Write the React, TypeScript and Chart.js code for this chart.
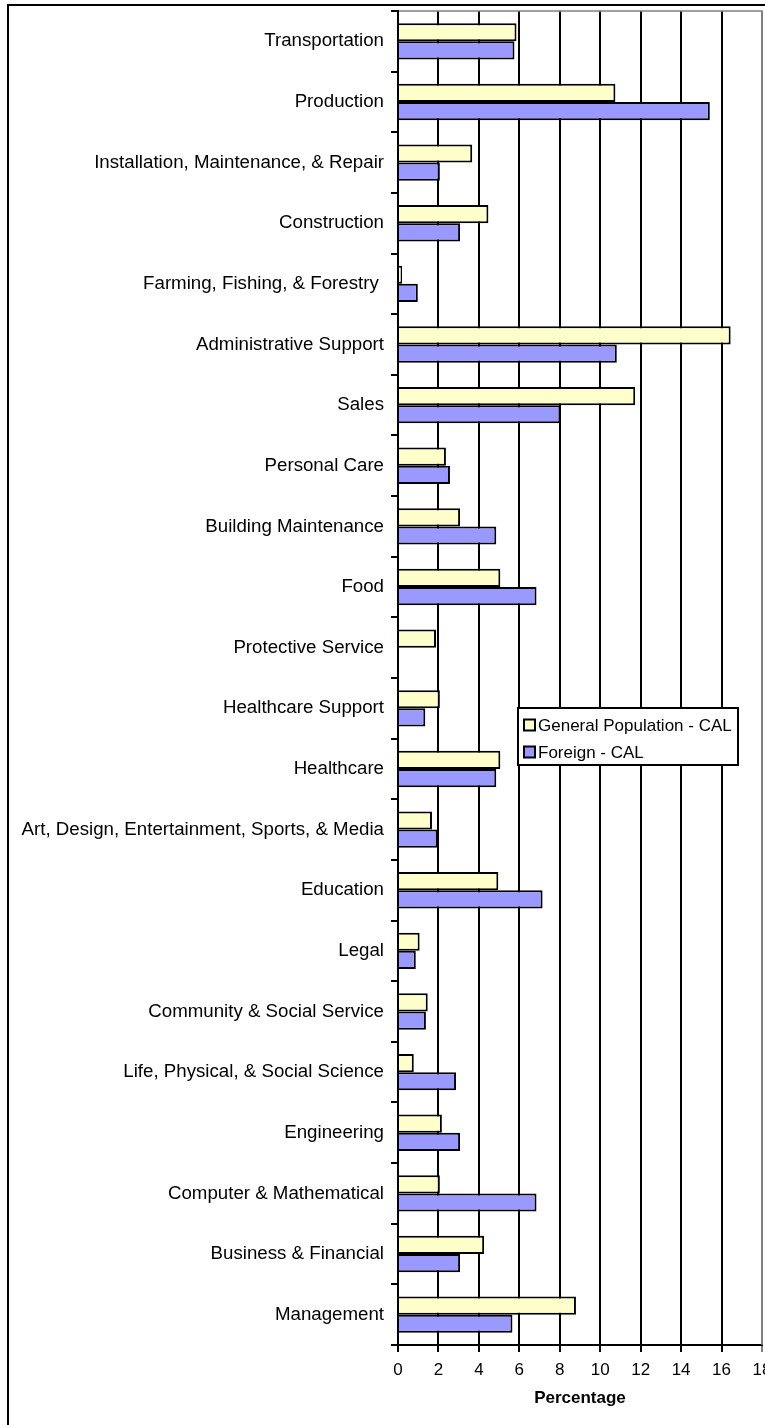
import React, { useEffect, useRef } from "react";
import { Chart, registerables } from "chart.js";

Chart.register(...registerables);

const categories = [
  "Transportation",
  "Production",
  "Installation, Maintenance, & Repair",
  "Construction",
  "Farming, Fishing, & Forestry ",
  "Administrative Support",
  "Sales",
  "Personal Care",
  "Building Maintenance",
  "Food",
  "Protective Service",
  "Healthcare Support",
  "Healthcare",
  "Art, Design, Entertainment, Sports, & Media",
  "Education",
  "Legal",
  "Community & Social Service",
  "Life, Physical, & Social Science",
  "Engineering",
  "Computer & Mathematical",
  "Business & Financial",
  "Management",
];

const generalPopulation = [
  5.86, 10.75, 3.67, 4.47, 0.2, 16.45, 11.73, 2.37, 3.07, 5.06, 1.88, 2.07,
  5.06, 1.68, 4.96, 1.07, 1.47, 0.78, 2.17, 2.07, 4.26, 8.8,
];

const foreignBorn = [
  5.76, 15.42, 2.07, 3.07, 0.98, 10.82, 8.03, 2.57, 4.86, 6.85, 0, 1.35,
  4.86, 1.96, 7.15, 0.88, 1.38, 2.87, 3.07, 6.85, 3.07, 5.66,
];

const seriesLabels = ["General Population - CAL", "Foreign - CAL"];
const seriesColors = ["#FFFFCC", "#9999FF"];
const xTicks = [0, 2, 4, 6, 8, 10, 12, 14, 16, 18];
const xTitle = "Percentage";

const FONT = '"Liberation Sans", Arial, Helvetica, sans-serif';

export default function App() {
  const ref = useRef<HTMLCanvasElement>(null);

  useEffect(() => {
    const canvas = ref.current;
    if (!canvas) return;

    const plotFrame = {
      id: "plotFrame",
      afterDraw(chart: any) {
        const { ctx, chartArea } = chart;
        const { left, top, right, bottom } = chartArea;
        ctx.save();
        ctx.clearRect(0, 0, chart.width, top - 2);
        ctx.strokeStyle = "#808080";
        ctx.lineWidth = 1.5;
        ctx.beginPath();
        ctx.moveTo(left, top);
        ctx.lineTo(right, top);
        ctx.lineTo(right, bottom);
        ctx.stroke();
        ctx.strokeStyle = "#000";
        ctx.lineWidth = 2;
        ctx.beginPath();
        ctx.moveTo(left, top - 1);
        ctx.lineTo(left, bottom + 1);
        ctx.stroke();
        ctx.restore();
      },
    };

    const legendBox = {
      id: "legendBox",
      afterDraw(chart: any) {
        const ctx = chart.ctx;
        ctx.save();
        ctx.fillStyle = "#fff";
        ctx.fillRect(518, 708, 220, 57);
        ctx.strokeStyle = "#000";
        ctx.lineWidth = 2;
        ctx.strokeRect(518, 708, 220, 57);
        chart.data.datasets.forEach((ds: any, i: number) => {
          const cy = 725 + i * 27;
          ctx.fillStyle = ds.backgroundColor;
          ctx.fillRect(524, cy - 5.5, 11, 11);
          ctx.strokeStyle = "#000";
          ctx.lineWidth = 2;
          ctx.strokeRect(524, cy - 5.5, 11, 11);
          ctx.fillStyle = "#000";
          ctx.font = `17px ${FONT}`;
          ctx.textBaseline = "middle";
          ctx.textAlign = "left";
          ctx.fillText(ds.label, 538, cy + 1);
        });
        ctx.restore();
      },
    };

    const chart = new Chart(canvas, {
      type: "bar",
      data: {
        labels: categories,
        datasets: [
          {
            label: seriesLabels[0],
            data: generalPopulation,
            backgroundColor: seriesColors[0],
            borderColor: "#000",
            borderWidth: 2,
            categoryPercentage: 0.6,
            barPercentage: 1,
          },
          {
            label: seriesLabels[1],
            data: foreignBorn,
            backgroundColor: seriesColors[1],
            borderColor: "#000",
            borderWidth: 2,
            categoryPercentage: 0.6,
            barPercentage: 1,
          },
        ],
      },
      options: {
        indexAxis: "y",
        responsive: false,
        animation: false,
        layout: { padding: { left: 0, top: 11, right: 38, bottom: 0 } },
        plugins: {
          legend: { display: false },
          tooltip: { enabled: false },
        },
        scales: {
          x: {
            min: 0,
            max: 18,
            afterBuildTicks: (s: any) => {
              s.ticks = xTicks.map((v) => ({ value: v }));
            },
            afterFit: (s: any) => {
              s.height = 80;
              s.paddingLeft = 0;
              s.paddingRight = 0;
            },
            grid: {
              color: (c: any) =>
                c.tick && c.tick.value === 18 ? "#808080" : "#000",
              lineWidth: 2,
              tickLength: 7,
              drawTicks: true,
            },
            border: { color: "#000", width: 2 },
            ticks: {
              color: "#000",
              font: { size: 17, family: FONT },
              padding: 8,
              maxRotation: 0,
              autoSkip: false,
            },
            title: {
              display: true,
              text: xTitle,
              color: "#000",
              font: { size: 17, weight: "bold", family: FONT },
              padding: { top: 0, bottom: 16 },
            },
          },
          y: {
            afterFit: (s: any) => {
              s.width = 398;
              s.paddingTop = 0;
              s.paddingBottom = 0;
            },
            grid: {
              drawOnChartArea: false,
              drawTicks: true,
              tickLength: 7,
              color: "#000",
              lineWidth: 2,
            },
            border: { display: false },
            ticks: {
              color: "#000",
              font: { size: 18.7, family: FONT },
              padding: 7,
              autoSkip: false,
            },
          },
        },
      },
      plugins: [plotFrame, legendBox],
    } as any);

    return () => chart.destroy();
  }, []);

  return (
    <div
      style={{
        position: "fixed",
        left: 0,
        top: 0,
        width: 765,
        height: 1425,
        overflow: "hidden",
        background: "#fff",
      }}
    >
      <div
        style={{
          position: "absolute",
          left: 7,
          top: 4,
          width: 1000,
          height: 2000,
          border: "2px solid #000",
        }}
      />
      <canvas
        ref={ref}
        width={800}
        height={1425}
        style={{ position: "absolute", left: 0, top: 0, width: 800, height: 1425 }}
      />
    </div>
  );
}
